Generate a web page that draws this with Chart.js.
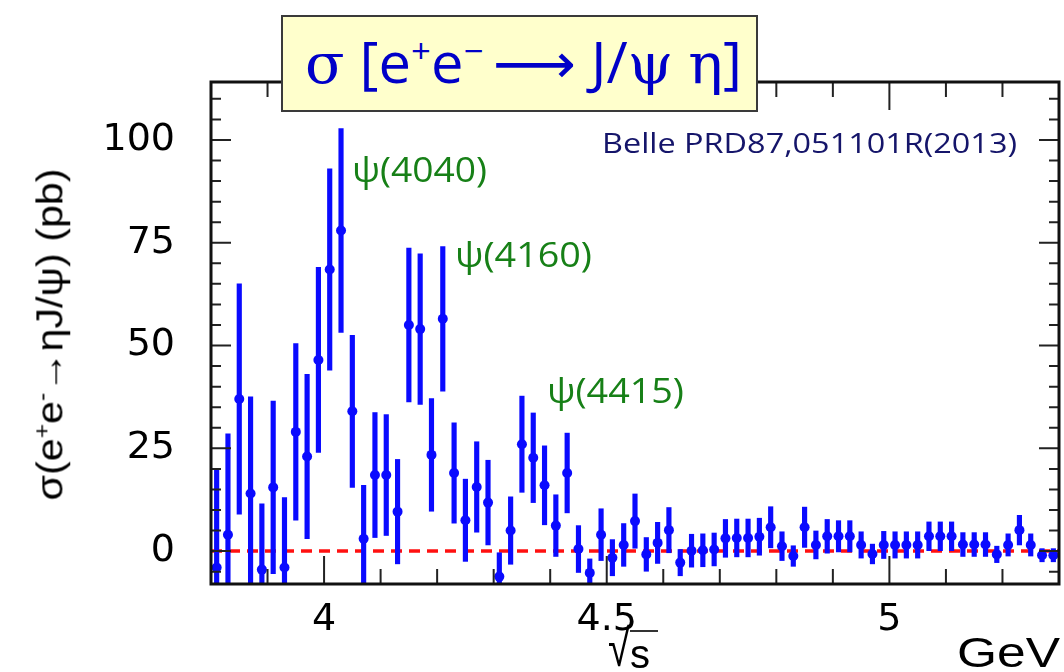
<!DOCTYPE html>
<html lang="en">

<head>
    <meta charset="UTF-8" />
    <title>sigma e+e- to J/psi eta</title>
    <script src="https://cdn.jsdelivr.net/npm/chart.js"></script>
    <style>
        body { margin: 0; background: #fff; }
        #wrap { position: relative; width: 1064px; height: 672px; overflow: hidden; }
        #grafico { position: absolute; left: 0; top: 0; }
        .txt { position: absolute; white-space: nowrap; line-height: 1; transform-origin: 0 0; }
        #caixaTitulo {
            position: absolute; left: 281px; top: 15px; width: 473px; height: 93px;
            background: #ffffcc; border: 2px solid #3a3a3a;
        }
        .psi { font-family: "Open Sans"; color: #178017; }
        .simb { font-family: "DejaVu Serif"; }
        sup { font-size: 0.6em; line-height: 0; }
    </style>
</head>

<body>
    <div id="wrap">
        <canvas id="grafico" width="1064" height="672"></canvas>
        <div id="caixaTitulo"></div>
        <div class="txt" id="titulo" style="font-family:'Open Sans';font-size:56px;color:#0000c8;left:305px;top:33px"><span class="simb">σ</span> [e<sup>+</sup>e<sup>−</sup>&thinsp;<span style="font-family:'DejaVu Sans'">⟶</span> J/<span class="simb">ψ</span> <span class="simb">η</span>]</div>
        <div class="txt psi" id="p4040" style="font-size:35px;left:352px;top:151px">ψ(4040)</div>
        <div class="txt psi" id="p4160" style="font-size:34px;left:455px;top:237px">ψ(4160)</div>
        <div class="txt psi" id="p4415" style="font-size:35px;left:547px;top:372px">ψ(4415)</div>
        <div class="txt" id="belle" style="font-family:'Open Sans';font-size:27px;color:#15156a;left:602px;top:129px">Belle PRD87,051101R(2013)</div>
        <div class="txt" id="tituloY" style="font-family:'Liberation Sans';font-size:37px;color:#000;">σ(e<sup>+</sup>e<sup>-</sup>→ηJ/ψ) (pb)</div>
        <div class="txt" id="raiz" style="font-family:'Liberation Sans';font-size:40px;color:#000;left:608px;top:634px"><span style="display:inline-block;transform:scaleY(1.3);transform-origin:50% 100%">√</span><span style="border-top:2px solid #333;padding-right:8px">s</span></div>
        <div class="txt" id="gev" style="font-family:'Liberation Sans';font-size:42px;color:#000;left:957px;top:632px">GeV</div>
    </div>
    <script>
        // bin centres (GeV)
        const energias = [3.81, 3.83, 3.85, 3.87, 3.89, 3.91, 3.93, 3.95, 3.97, 3.99,
            4.01, 4.03, 4.05, 4.07, 4.09, 4.11, 4.13, 4.15, 4.17, 4.19,
            4.21, 4.23, 4.25, 4.27, 4.29, 4.31, 4.33, 4.35, 4.37, 4.39,
            4.41, 4.43, 4.45, 4.47, 4.49, 4.51, 4.53, 4.55, 4.57, 4.59,
            4.61, 4.63, 4.65, 4.67, 4.69, 4.71, 4.73, 4.75, 4.77, 4.79,
            4.81, 4.83, 4.85, 4.87, 4.89, 4.91, 4.93, 4.95, 4.97, 4.99,
            5.01, 5.03, 5.05, 5.07, 5.09, 5.11, 5.13, 5.15, 5.17, 5.19,
            5.21, 5.23, 5.25, 5.27, 5.29];

        // cross section (pb)
        const secao = [-4, 4, 37, 14, -4.5, 15.5, -4, 29, 23, 46.5,
            68.5, 78, 34, 3, 18.5, 18.5, 9.6, 55, 54, 23.4,
            56.5, 19, 7.5, 15.6, 11.8, -6.2, 5, 26, 22.7, 16,
            6.2, 19, 0.5, -5.3, 4, -1.6, 1.5, 7.3, -0.8, 2,
            5.1, -2.8, 0.1, 0.2, 0.4, 3.1, 3.2, 3.2, 3.5, 5.8,
            1.2, -1.2, 5.8, 1.5, 3.6, 3.6, 3.6, 1.5, -0.7, 1.5,
            1.5, 1.5, 1.5, 3.6, 3.6, 3.6, 1.6, 1.6, 1.6, -0.8,
            1.5, 5.1, 1.5, -1, -1];

        // symmetric errors (pb)
        const erros = [24, 24.5, 28, 23.5, 16, 21, 17, 21.5, 20, 22.5,
            24.5, 24.8, 18.5, 13, 15.2, 14.7, 12.7, 18.7, 18.3, 13.7,
            17.6, 12.2, 10, 11, 10.3, 5.8, 8.2, 11.7, 10.9, 9.6,
            7.5, 9.7, 5.7, 3.4, 6.3, 4.4, 5.2, 6.6, 4.1, 5,
            5.5, 3.2, 4, 4, 4, 4.6, 4.6, 4.6, 4.5, 5,
            3.5, 2.5, 4.9, 3.4, 4.1, 3.8, 3.8, 3.2, 2.4, 3.3,
            3.2, 3.2, 3.2, 3.5, 3.5, 3.5, 2.9, 2.9, 2.9, 2,
            2.7, 3.6, 2.7, 1.6, 1.6];

        const rotulosX = [4, 4.5, 5];
        const rotulosY = [0, 25, 50, 75, 100];
        const limitesX = [3.8, 5.3];
        const limitesY = [-8, 114.1];

        const azul = '#0a0aff';

        // inward ticks and frame, placed through the chart scales
        const moldura = {
            id: 'moldura',
            afterDraw(chart) {
                const ctx = chart.ctx;
                const a = chart.chartArea;
                const x = chart.scales.x;
                const y = chart.scales.y;
                ctx.save();
                ctx.strokeStyle = '#222';
                ctx.lineWidth = 2;
                ctx.beginPath();
                for (let v = -5; v <= 110; v += 5) {
                    const py = y.getPixelForValue(v);
                    const len = rotulosY.includes(v) ? 20 : 10;
                    ctx.moveTo(a.left, py); ctx.lineTo(a.left + len, py);
                    ctx.moveTo(a.right, py); ctx.lineTo(a.right - len, py);
                }
                for (let k = 38; k <= 53; k++) {
                    const v = k / 10;
                    const px = x.getPixelForValue(v);
                    const len = rotulosX.includes(v) ? 28 : 15;
                    ctx.moveTo(px, a.bottom); ctx.lineTo(px, a.bottom - len);
                    ctx.moveTo(px, a.top); ctx.lineTo(px, a.top + len);
                }
                ctx.stroke();
                ctx.lineWidth = 3;
                ctx.strokeStyle = '#111';
                ctx.strokeRect(a.left, a.top, a.width, a.height);
                ctx.restore();
            }
        };

        const barras = energias.map((e, i) => ({ x: e, y: [secao[i] - erros[i], secao[i] + erros[i]] }));
        const pontos = energias.map((e, i) => ({ x: e, y: secao[i] }));

        new Chart(document.getElementById('grafico'), {
            type: 'bar',
            data: {
                datasets: [{
                    type: 'line',
                    data: [{ x: limitesX[0], y: 0 }, { x: limitesX[1], y: 0 }],
                    borderColor: '#ff1010',
                    borderWidth: 3.5,
                    borderDash: [11, 7],
                    pointRadius: 0,
                    order: 3
                }, {
                    type: 'bar',
                    data: barras,
                    backgroundColor: azul,
                    barThickness: 4.5,
                    grouped: false,
                    order: 2
                }, {
                    type: 'scatter',
                    data: pontos,
                    backgroundColor: azul,
                    borderWidth: 0,
                    pointRadius: 5,
                    order: 1
                }]
            },
            options: {
                responsive: false,
                devicePixelRatio: 1,
                animation: false,
                layout: { padding: { top: 82, right: 5, left: 0, bottom: 0 } },
                plugins: { legend: { display: false }, tooltip: { enabled: false } },
                scales: {
                    x: {
                        type: 'linear',
                        min: limitesX[0],
                        max: limitesX[1],
                        offset: false,
                        grid: { display: false },
                        border: { display: false },
                        afterBuildTicks: s => { s.ticks = rotulosX.map(v => ({ value: v })); },
                        afterFit: s => { s.height = 88; },
                        ticks: {
                            autoSkip: false,
                            maxRotation: 0,
                            padding: 5,
                            color: '#000',
                            font: { family: 'DejaVu Sans', size: 38 },
                            callback: v => String(v)
                        }
                    },
                    y: {
                        min: limitesY[0],
                        max: limitesY[1],
                        grid: { display: false },
                        border: { display: false },
                        afterBuildTicks: s => { s.ticks = rotulosY.map(v => ({ value: v })); },
                        afterFit: s => { s.width = 211; },
                        ticks: {
                            padding: 28,
                            color: '#000',
                            font: { family: 'DejaVu Sans', size: 38 },
                            callback: v => String(v)
                        }
                    }
                }
            },
            plugins: [moldura]
        });

        // stretch overlay texts to the widths of the original
        function ajustar(id, largura) {
            const el = document.getElementById(id);
            const w = el.getBoundingClientRect().width;
            el.style.transform = 'scaleX(' + (largura / w) + ')';
        }
        ajustar('titulo', 437);
        ajustar('p4040', 135);
        ajustar('p4160', 137);
        ajustar('p4415', 137);
        ajustar('belle', 415);
        ajustar('gev', 103);

        const ty = document.getElementById('tituloY');
        const r = ty.getBoundingClientRect();
        ty.style.left = (50 - r.width / 2) + 'px';
        ty.style.top = (334 - r.height / 2) + 'px';
        ty.style.transformOrigin = '50% 50%';
        ty.style.transform = 'rotate(-90deg) scaleX(' + (332 / r.width) + ')';
    </script>
</body>

</html>
